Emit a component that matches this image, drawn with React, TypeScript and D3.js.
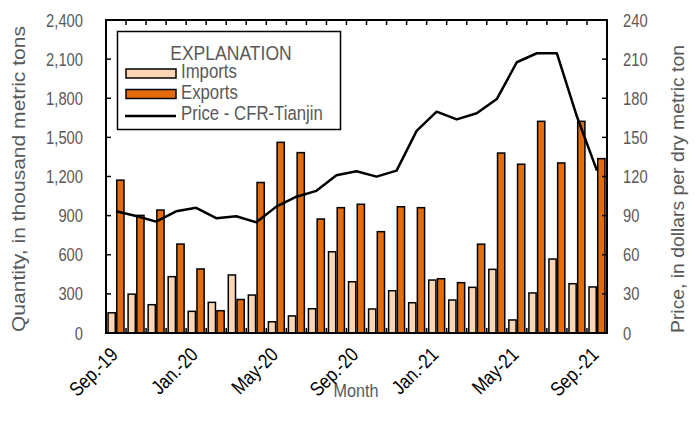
import React from "react";
import * as d3 from "d3";

const months = [
  "Sep-19","Oct-19","Nov-19","Dec-19","Jan-20","Feb-20","Mar-20","Apr-20","May-20","Jun-20","Jul-20","Aug-20",
  "Sep-20","Oct-20","Nov-20","Dec-20","Jan-21","Feb-21","Mar-21","Apr-21","May-21","Jun-21","Jul-21","Aug-21","Sep-21",
];
const imports = [155,298,217,432,166,235,445,291,86,131,186,623,393,184,324,232,406,253,350,488,100,307,567,378,353];
const exports = [1172,902,943,682,491,171,257,1154,1462,1383,874,961,987,777,968,961,416,386,681,1380,1294,1623,1304,1623,1337];
const price = [93.3,89.7,85.4,93.3,96,88,89.5,84.9,96.9,104.5,109,121,124,119.9,124.5,155,169.7,163.8,168.5,179.4,207.6,214.5,214.5,166,124.5];
const xTickLabels: [string, string][] = [
  ["Sep-19","Sep.-19"],["Jan-20","Jan.-20"],["May-20","May-20"],["Sep-20","Sep.-20"],
  ["Jan-21","Jan.-21"],["May-21","May-21"],["Sep-21","Sep.-21"],
];
const leftTicks = [0,300,600,900,1200,1500,1800,2100,2400];
const rightTicks = [0,30,60,90,120,150,180,210,240];
const legendItems = ["Imports", "Exports", "Price - CFR-Tianjin"];

const W = 699, H = 424;
const L = 106, R = 607, T = 20, B = 333;
const FONT = "'Liberation Sans', Arial, sans-serif";
const IMP = "#FCD5B5";
const EXP = "#E46C0A";
const GRAY = "#595959";

type TxtProps = {
  x: number; y: number; rot?: number; sx?: number; size: number; anchor?: "start" | "middle" | "end";
  fill?: string; len?: number; children: React.ReactNode;
};
function Txt({ x, y, rot = 0, sx = 1, size, anchor = "start", fill = GRAY, len, children }: TxtProps) {
  return (
    <text
      transform={`translate(${x},${y}) rotate(${rot}) scale(${sx},1)`}
      textAnchor={anchor}
      fontSize={size}
      fill={fill}
      {...(len ? { textLength: len, lengthAdjust: "spacingAndGlyphs" } : {})}
    >
      {children}
    </text>
  );
}

export default function App() {
  const x = d3.scaleBand<string>().domain(months).range([L, R]).padding(0);
  const x1 = d3.scaleBand<string>().domain(["imp","exp"]).range([0, x.bandwidth()]).paddingInner(0).paddingOuter(0.15);
  const yL = d3.scaleLinear().domain([0, 2400]).range([B, T]);
  const yR = d3.scaleLinear().domain([0, 240]).range([B, T]);
  const line = d3.line<number>()
    .x((_, i) => (x(months[i]) as number) + x.bandwidth() / 2)
    .y((d) => yR(d));
  const sw = 1.5;
  const bw = x1.bandwidth();
  const bars = (vals: number[], key: string, fill: string) =>
    vals.map((v, i) => (
      <rect key={key + i}
        x={(x(months[i]) as number) + (x1(key) as number) + sw / 2}
        y={yL(v)}
        width={bw - sw}
        height={B - yL(v)}
        fill={fill} stroke="#000" strokeWidth={sw} />
    ));
  const bounds = d3.range(months.length + 1).map((i) => L + i * x.step());
  const fmt = d3.format(",");
  return (
    <svg width={W} height={H} style={{ position: "absolute", left: 0, top: 0, background: "#fff" }} fontFamily={FONT}>
      {bars(imports, "imp", IMP)}
      {bars(exports, "exp", EXP)}
      <path d={line(price) || ""} fill="none" stroke="#000" strokeWidth={2.5} strokeLinejoin="round" />
      {bounds.slice(1, -1).map((bx, i) => (
        <g key={"bt" + i}>
          <line x1={bx} x2={bx} y1={T} y2={T + 5} stroke="#000" strokeWidth={1.5} />
          <line x1={bx} x2={bx} y1={B} y2={B - 5} stroke="#000" strokeWidth={1.5} />
        </g>
      ))}
      {leftTicks.map((t) => (
        <g key={"lt" + t}>
          <line x1={L} x2={L + 5} y1={yL(t)} y2={yL(t)} stroke="#000" strokeWidth={1.5} />
          <Txt x={83} y={yL(t) + 6.5} anchor="end" size={18} sx={0.82}>{fmt(t)}</Txt>
        </g>
      ))}
      {rightTicks.map((t) => (
        <g key={"rt" + t}>
          <line x1={R - 5} x2={R} y1={yR(t)} y2={yR(t)} stroke="#000" strokeWidth={1.5} />
          <Txt x={623} y={yR(t) + 6.5} anchor="start" size={18} sx={0.82}>{t}</Txt>
        </g>
      ))}
      <rect x={L} y={T} width={R - L} height={B - T} fill="none" stroke="#000" strokeWidth={2} />
      {xTickLabels.map(([m, lab]) => (
        <Txt key={m} x={(x(m) as number) + x.bandwidth() / 2 + 3} y={356} rot={-45} anchor="end" size={20} sx={0.84} fill="#000">{lab}</Txt>
      ))}
      <Txt x={356} y={397} anchor="middle" size={18} sx={0.9}>Month</Txt>
      <Txt x={25} y={179} rot={-90} anchor="middle" size={18} len={306}>Quantity, in thousand metric tons</Txt>
      <Txt x={684} y={189} rot={-90} anchor="middle" size={18} len={288}>Price, in dollars per dry metric ton</Txt>
      <rect x={117.5} y={31.5} width={223} height={98} fill="#fff" stroke="#000" strokeWidth={1.5} />
      <Txt x={231} y={60} anchor="middle" size={19.5} sx={0.9}>EXPLANATION</Txt>
      <rect x={126} y={69} width={50} height={9} fill={IMP} stroke="#000" strokeWidth={1.5} />
      <rect x={126} y={89.5} width={50} height={9} fill={EXP} stroke="#000" strokeWidth={1.5} />
      <line x1={125} x2={176} y1={116} y2={116} stroke="#000" strokeWidth={2.5} />
      {legendItems.map((it, i) => (
        <Txt key={it} x={181} y={[77.5, 98.5, 120][i]} size={19.5} sx={0.86}>{it}</Txt>
      ))}
    </svg>
  );
}
